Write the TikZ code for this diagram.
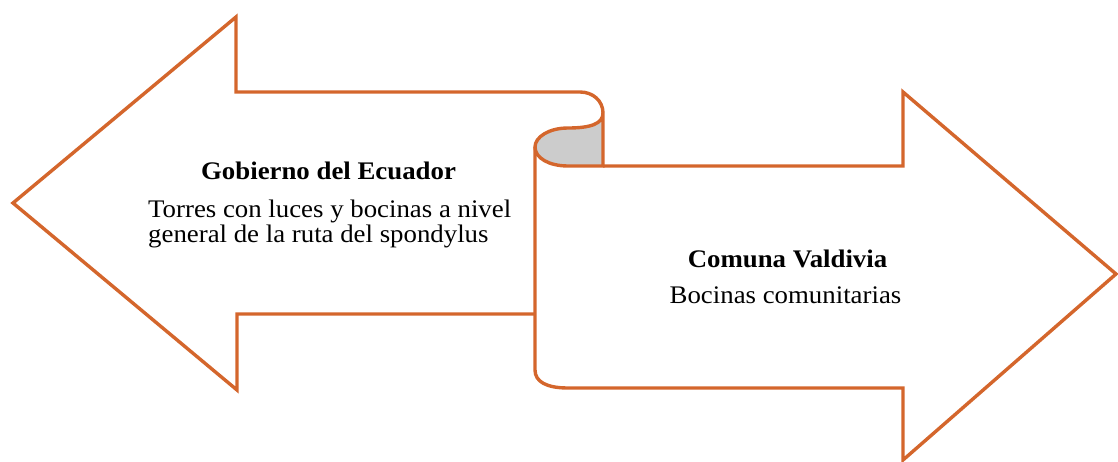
\documentclass[tikz,border=0pt]{standalone}
\usepackage{fontspec}
\setmainfont[FakeStretch=1.06]{Liberation Serif}
\definecolor{arrowline}{RGB}{212,102,44}
\definecolor{foldgray}{RGB}{204,204,204}
\begin{document}
\begin{tikzpicture}[x=1pt,y=-1pt,
  outline/.style={draw=arrowline, line width=3.4pt, line join=miter},
  lbl/.style={inner sep=0pt, font=\fontsize{25.3}{25}\selectfont}]
\useasboundingbox (0,0) rectangle (1118,462);
% left arrow (Gobierno) with the scroll curl
\draw[outline] (535,314) -- (237,314) -- (237,390) -- (13,203) -- (236,17) -- (236,92)
  -- (580,92) .. controls (593,92) and (603,101) .. (603,113);
% grey fold
\filldraw[outline, fill=foldgray] (603,113) .. controls (603,124) and (590,128) .. (568,128)
  .. controls (549,128) and (535,137) .. (535,147)
  .. controls (535,158) and (549,166) .. (568,166) -- (603,166) -- cycle;
% right arrow (Comuna)
\draw[outline] (535,147) -- (535,370) .. controls (535,382) and (547,388) .. (568,388)
  -- (903,388) -- (903,460) -- (1116,274) -- (903,92) -- (903,166) -- (603,166);
% texts
\node[lbl, anchor=base] (gob) at (328.5,180) {\bfseries Gobierno del Ecuador};
\node[lbl, anchor=base west] (tor1) at (148,218) {Torres con luces y bocinas a nivel};
\node[lbl, anchor=base west] (tor2) at (148,243) {general de la ruta del spondylus};
\node[lbl, anchor=base] (com) at (787.5,267.5) {\bfseries Comuna Valdivia};
\node[lbl, anchor=base] (boc) at (785.5,303) {Bocinas comunitarias};
\end{tikzpicture}
\end{document}
